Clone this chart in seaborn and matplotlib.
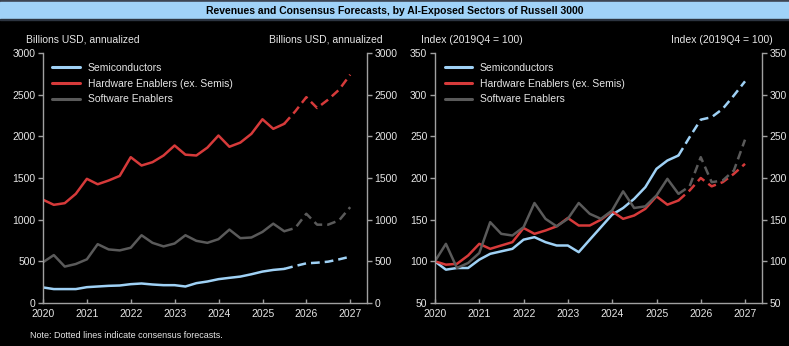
import numpy as np
import pandas as pd
import matplotlib
matplotlib.use("Agg")
import matplotlib.pyplot as plt
import matplotlib.dates as mdates
from matplotlib.patches import Rectangle
import seaborn as sns

# ---------------- data ----------------
quarters = ["2019Q4",
            "2020Q1", "2020Q2", "2020Q3", "2020Q4",
            "2021Q1", "2021Q2", "2021Q3", "2021Q4",
            "2022Q1", "2022Q2", "2022Q3", "2022Q4",
            "2023Q1", "2023Q2", "2023Q3", "2023Q4",
            "2024Q1", "2024Q2", "2024Q3", "2024Q4",
            "2025Q1", "2025Q2", "2025Q3", "2025Q4",
            "2026Q1", "2026Q2", "2026Q3", "2026Q4"]
last_actual = "2025Q2"

series_names = ["Semiconductors", "Hardware Enablers (ex. Semis)", "Software Enablers"]

rev_semis = [187, 167, 167, 167, 190, 198, 206, 210, 226, 234, 222, 214, 214, 198, 238,
             258, 286, 302, 317, 345, 377, 397, 409, 444, 476, 484, 496, 524, 556]
rev_hardware = [1240, 1178, 1198, 1310, 1490, 1425, 1470, 1525, 1750, 1650, 1690, 1770,
                1890, 1780, 1770, 1865, 2010, 1875, 1925, 2030, 2205, 2090, 2150, 2300,
                2470, 2340, 2440, 2560, 2740]
rev_software = [488, 575, 437, 468, 524, 706, 643, 631, 663, 813, 722, 679, 714, 813, 746,
                722, 766, 881, 778, 786, 853, 952, 861, 900, 1071, 940, 940, 992, 1150]

idx_semis = [100, 90, 92, 92, 102, 109, 112, 115, 126, 129, 123, 119, 119, 111, 126, 141,
             156, 164, 175, 189, 211, 221, 227, 249, 270, 273, 283, 299, 316]
idx_hardware = [100, 96, 97, 107, 121, 115, 119, 123, 140, 133, 137, 142, 152, 143, 143,
                150, 160, 151, 155, 163, 178, 168, 173, 185, 200, 190, 195, 205, 217]
idx_software = [100, 121, 92, 98, 110, 147, 133, 131, 141, 170, 151, 142, 151, 170, 157,
                151, 161, 184, 164, 166, 179, 199, 181, 190, 225, 195, 197, 209, 246]

colors = {"Semiconductors": "#9fd1f5",
          "Hardware Enablers (ex. Semis)": "#d63a3a",
          "Software Enablers": "#5a5a5a"}

# ---------------- style ----------------
sns.set_style("dark", {"axes.facecolor": "black", "figure.facecolor": "black"})
plt.rcParams["font.family"] = ["Liberation Sans", "DejaVu Sans"]
TXT = "#e6e6e6"
SPINE = "#a0a0a0"

dates = pd.PeriodIndex(quarters, freq="Q").to_timestamp(how="end").normalize()
cut = pd.Period(last_actual, freq="Q").to_timestamp(how="end").normalize()


def make_df(vals):
    rows = []
    for name, v in zip(series_names, vals):
        for d, y in zip(dates, v):
            rows.append({"date": d, "series": name, "value": y})
    return pd.DataFrame(rows)


df_rev = make_df([rev_semis, rev_hardware, rev_software])
df_idx = make_df([idx_semis, idx_hardware, idx_software])

fig = plt.figure(figsize=(7.89, 3.46), dpi=100)
fig.patch.set_facecolor("black")

W, H = 789, 346


def fx(px):
    return px / W


def fy(py):
    return 1 - py / H


# title band
fig.patches.append(Rectangle((0, fy(1.5)), 1, 1.5 / H, transform=fig.transFigure,
                             color="#3c4452", zorder=0))
fig.patches.append(Rectangle((0, fy(18.5)), 1, 17 / H, transform=fig.transFigure,
                             color="#a0d2f8", zorder=0))
fig.patches.append(Rectangle((0, fy(20)), 1, 1.5 / H, transform=fig.transFigure,
                             color="#2c3440", zorder=0))
fig.text(0.5, fy(10.5), "Revenues and Consensus Forecasts, by AI-Exposed Sectors of Russell 3000",
         ha="center", va="center", fontsize=7.5, fontweight="bold", color="black")

x_lo = pd.Timestamp("2020-01-01")
x_hi = pd.Timestamp("2027-05-20")


def draw_panel(rect, df, ylim, yticks, ylabel_text, lab_left_px, lab_right_px):
    ax = fig.add_axes(rect)
    ax.set_facecolor("black")
    actual = df[df["date"] <= cut]
    fc = df[df["date"] >= cut]
    sns.lineplot(data=actual, x="date", y="value", hue="series",
                 palette=colors, hue_order=series_names, ax=ax, lw=1.8, legend=False)
    n_actual = len(ax.lines)
    sns.lineplot(data=fc, x="date", y="value", hue="series", palette=colors,
                 hue_order=series_names, ax=ax, lw=1.8, legend=False)
    for line in ax.lines[n_actual:]:
        line.set_linestyle((0, (3.5, 2)))
    ax.set_xlim(x_lo, x_hi)
    ax.set_ylim(*ylim)
    ax.set_yticks(yticks)
    ax.set_xlabel("")
    ax.set_ylabel("")
    ax.xaxis.set_major_locator(mdates.YearLocator())
    ax.xaxis.set_major_formatter(mdates.DateFormatter("%Y"))
    ax.grid(False)
    for s in ["top", "right"]:
        ax.spines[s].set_visible(False)
    for s in ["left", "bottom"]:
        ax.spines[s].set_visible(True)
        ax.spines[s].set_color(SPINE)
        ax.spines[s].set_linewidth(1.0)
    ax.tick_params(axis="x", direction="in", length=3, width=1, color=SPINE,
                   labelcolor=TXT, labelsize=7.5, pad=4, bottom=True)
    ax.tick_params(axis="y", direction="out", length=3.5, width=1, color=SPINE,
                   labelcolor=TXT, labelsize=7.5, pad=2, left=True)
    ax2 = ax.twinx()
    ax2.set_ylim(*ylim)
    ax2.set_yticks(yticks)
    ax2.grid(False)
    for s in ["top", "left", "bottom"]:
        ax2.spines[s].set_visible(False)
    ax2.spines["right"].set_visible(True)
    ax2.spines["right"].set_color(SPINE)
    ax2.spines["right"].set_linewidth(1.0)
    ax2.tick_params(axis="y", direction="out", length=3.5, width=1, color=SPINE,
                    labelcolor=TXT, labelsize=7.5, pad=2, right=True)
    handles = ax.lines[:n_actual]
    leg = ax.legend(handles, series_names, loc="upper left", bbox_to_anchor=(0.01, 0.985),
                    frameon=False, fontsize=7.5, labelcolor=TXT, handlelength=2.6,
                    handletextpad=0.8, labelspacing=0.55, borderaxespad=0.2)
    for h in leg.get_lines():
        h.set_linewidth(2.2)
        h.set_linestyle("-")
    fig.text(fx(lab_left_px), fy(40), ylabel_text, ha="left", va="center",
             fontsize=7.5, color=TXT)
    fig.text(fx(lab_right_px), fy(40), ylabel_text, ha="right", va="center",
             fontsize=7.5, color=TXT)
    return ax


bottom = fy(303)
height = (303 - 53) / H
draw_panel([fx(43), bottom, (367 - 43) / W, height], df_rev, (0, 3000),
           [0, 500, 1000, 1500, 2000, 2500, 3000], "Billions USD, annualized", 26, 383)
draw_panel([fx(435), bottom, (762 - 435) / W, height], df_idx, (50, 350),
           [50, 100, 150, 200, 250, 300, 350], "Index (2019Q4 = 100)", 421, 773)

fig.text(fx(30), fy(336), "Note: Dotted lines indicate consensus forecasts.",
         ha="left", va="center", fontsize=6.5, color=TXT)

fig.savefig("out.png", dpi=100, facecolor="black")
